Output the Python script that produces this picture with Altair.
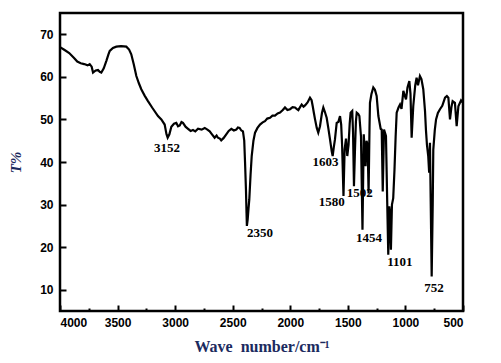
import altair as alt
import pandas as pd

wavenumber = [4000, 3960, 3920, 3880, 3850, 3820, 3790, 3760, 3742, 3725, 3713, 3690, 3670, 3655, 3641,
              3620, 3598, 3580, 3568, 3540, 3511, 3470, 3424, 3400, 3381, 3360, 3337, 3315, 3294, 3265,
              3236, 3200, 3149, 3120, 3091, 3075, 3065, 3050, 3033, 3010, 2990, 2975, 2960, 2945, 2932,
              2910, 2888, 2865, 2845, 2825, 2801, 2770, 2743, 2720, 2700, 2680, 2657, 2640, 2628, 2612,
              2600, 2580, 2556, 2535, 2512, 2490, 2469, 2455, 2440, 2425, 2411, 2400, 2393, 2385, 2380,
              2377, 2370, 2363, 2356, 2345, 2335, 2320, 2306, 2285, 2263, 2240, 2220, 2200, 2176, 2155,
              2133, 2110, 2089, 2065, 2046, 2025, 2002, 1980, 1959, 1945, 1930, 1915, 1901, 1885, 1872,
              1850, 1829, 1815, 1805, 1795, 1785, 1770, 1757, 1742, 1725, 1713, 1700, 1684, 1670, 1655,
              1640, 1632, 1622, 1612, 1597, 1583, 1568, 1558, 1550, 1538, 1528, 1516, 1505, 1494, 1484,
              1476, 1462, 1455, 1447, 1438, 1430, 1423, 1410, 1400, 1386, 1373, 1362, 1346, 1338, 1328,
              1320, 1312, 1308, 1295, 1279, 1265, 1250, 1235, 1215, 1206, 1197, 1186, 1169, 1158, 1149,
              1140, 1134, 1126, 1117, 1106, 1095, 1085, 1076, 1060, 1047, 1034, 1018, 1005, 995, 982,
              966, 956, 946, 932, 915, 903, 891, 874, 861, 845, 830, 822, 813, 802, 794,
              787, 772, 763, 758, 745, 734, 718, 700, 680, 656, 640, 627, 613, 600, 590,
              570, 555, 540, 517, 500]
transmittance = [67.0, 66.3, 65.6, 64.5, 63.6, 63.2, 63.0, 62.7, 63.0, 62.4, 61.0, 61.5, 61.6, 61.2, 61.0,
                 62.0, 63.7, 65.2, 66.1, 66.8, 67.1, 67.2, 67.1, 66.4, 65.3, 63.0, 60.2, 58.5, 57.1, 55.6,
                 54.3, 52.8, 50.8, 50.0, 48.8, 46.5, 45.7, 46.5, 48.3, 49.0, 49.2, 48.4, 48.6, 49.4, 49.2,
                 48.3, 47.8, 47.3, 47.5, 47.2, 47.8, 47.6, 48.0, 47.6, 47.2, 46.5, 45.7, 46.2, 45.7, 45.5,
                 45.1, 45.6, 46.5, 47.3, 47.8, 47.4, 47.6, 48.1, 48.0, 47.4, 47.2, 45.0, 40.0, 33.5, 28.0,
                 25.0, 26.5, 29.0, 31.2, 37.0, 41.4, 45.0, 46.9, 48.0, 48.8, 49.3, 49.6, 50.2, 50.4, 50.9,
                 50.9, 51.4, 51.6, 52.2, 52.8, 52.2, 52.4, 52.9, 52.8, 52.5, 52.2, 52.9, 53.5, 53.0, 53.3,
                 54.0, 55.1, 54.5, 53.1, 51.5, 50.0, 48.0, 46.9, 48.4, 51.5, 52.8, 51.8, 50.4, 48.0, 45.3,
                 42.5, 41.4, 43.5, 45.3, 49.2, 49.4, 50.8, 48.8, 44.0, 32.0, 43.0, 45.5, 41.4, 44.0, 49.0,
                 51.6, 52.0, 47.0, 34.3, 43.0, 49.5, 51.6, 51.3, 50.8, 46.0, 24.1, 46.5, 39.0, 45.0, 44.0,
                 32.6, 48.0, 53.9, 56.0, 57.5, 57.0, 55.5, 50.8, 47.8, 47.6, 33.1, 47.6, 46.1, 30.4, 18.2,
                 29.6, 28.0, 19.4, 30.0, 31.5, 38.2, 46.0, 51.6, 52.8, 53.5, 52.5, 56.7, 55.5, 54.7, 57.5,
                 59.0, 56.0, 45.7, 53.1, 58.0, 59.8, 58.0, 60.2, 59.5, 57.1, 52.0, 47.6, 44.0, 41.4, 37.5,
                 44.5, 13.1, 30.0, 42.9, 47.5, 50.0, 51.5, 52.4, 53.2, 55.1, 55.5, 55.1, 50.0, 53.0, 54.3,
                 53.9, 48.4, 53.1, 54.5, 53.9]

label_text = ["3152", "2350", "1603", "1580", "1502", "1454", "1101", "752"]
label_wn = [3071, 2263, 1694, 1640, 1397, 1316, 1049, 752]
label_t = [43.4, 23.3, 39.9, 30.5, 32.8, 22.2, 16.4, 10.5]

major_ticks = [4000, 3500, 3000, 2500, 2000, 1500, 1000, 500]
minor_ticks = [3750, 3250, 2750, 2250, 1750, 1250, 750]
y_ticks = [10, 20, 30, 40, 50, 60, 70]

spec = pd.DataFrame({"wn": wavenumber, "t": transmittance})
labels = pd.DataFrame({"wn": label_wn, "t": label_t, "txt": label_text})

navy = "#1b2a5e"
xscale = alt.Scale(domain=[500, 4000], reverse=True, nice=False, zero=False)
yscale = alt.Scale(domain=[5, 75], nice=False, zero=False)

line = alt.Chart(spec).mark_line(color="black", strokeWidth=2.2).encode(
    x=alt.X("wn:Q", scale=xscale,
            axis=alt.Axis(values=major_ticks, format="d", orient="bottom", offset=-6, tickSize=6,
                          tickWidth=2, tickColor="black", domain=False, grid=False,
                          labelPadding=6, labelFont="Liberation Sans", labelFontSize=12,
                          labelFontWeight="bold", labelColor="black",
                          title="Wave\u00a0 number/cm\u207b\u00b9", titleFont="Liberation Serif",
                          titleFontSize=16, titleFontWeight="bold", titleColor=navy,
                          titlePadding=10)),
    y=alt.Y("t:Q", scale=yscale,
            axis=alt.Axis(values=y_ticks, format="d", offset=-6, tickSize=6, tickWidth=2,
                          tickColor="black", domain=False, grid=False, labelPadding=7,
                          labelFont="Liberation Sans", labelFontSize=12, labelFontWeight="bold",
                          labelColor="black", title="T%", titleFont="Liberation Serif",
                          titleFontSize=15, titleFontWeight="bold", titleFontStyle="italic",
                          titleColor=navy, titlePadding=16)),
)

text = alt.Chart(labels).mark_text(font="Liberation Serif", fontSize=13, fontWeight="bold",
                                   color="black", align="center", baseline="middle").encode(
    x=alt.X("wn:Q", scale=xscale,
            axis=alt.Axis(values=minor_ticks, orient="bottom", offset=-3, tickSize=3, tickWidth=2,
                          tickColor="black", domain=False, grid=False, labels=False, title=None)),
    y=alt.Y("t:Q", scale=yscale),
    text="txt:N",
)

chart = alt.layer(line, text).resolve_axis(x="independent").properties(
    width=403, height=298,
    autosize=alt.AutoSizeParams(type="none"),
    padding={"left": 52, "top": 5, "right": 30, "bottom": 50},
).configure_view(stroke="black", strokeWidth=2.5)

chart.save("out.html", embed_options={"renderer": "svg", "actions": False})
